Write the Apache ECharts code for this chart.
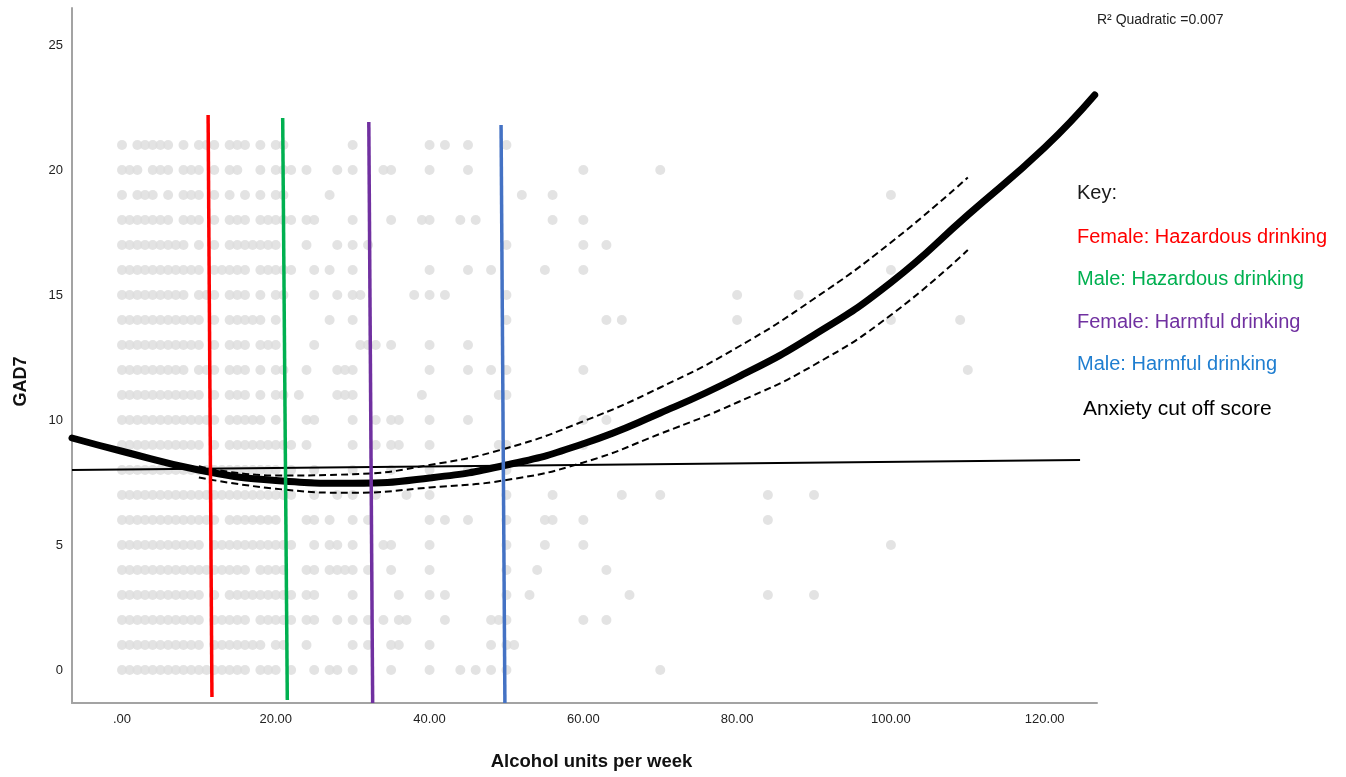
<!DOCTYPE html>
<html>
<head>
<meta charset="utf-8">
<script src="https://cdn.jsdelivr.net/npm/echarts@6/dist/echarts.min.js"></script>
<style>
html,body{margin:0;padding:0;background:#fff;}
#chart{width:1346px;height:777px;}
</style>
</head>
<body>
<div id="chart"></div>
<script>
// ---- Data ----
// GAD7 score rows: alcohol units per week for each observed point at that score
const row21 = [0,2,3,4,5,6,8,10,11,12,14,15,16,18,20,21,30,40,42,45,50];
const row20 = [0,1,2,4,5,6,8,9,10,12,14,15,18,20,21,22,24,28,30,34,35,40,45,60,70];
const row19 = [0,2,3,4,6,8,9,10,12,14,16,18,20,21,27,52,56,100];
const row18 = [0,1,2,3,4,5,6,8,9,10,12,14,15,16,18,19,20,21,22,24,25,30,35,39,40,44,46,56,60];
const row17 = [0,1,2,3,4,5,6,7,8,10,12,14,15,16,17,18,19,20,24,28,30,32,50,60,63];
const row16 = [0,1,2,3,4,5,6,7,8,9,10,12,13,14,15,16,18,19,20,21,22,25,27,30,40,45,48,55,60,100];
const row15 = [0,1,2,3,4,5,6,7,8,10,11,12,14,15,16,18,20,21,25,28,30,31,38,40,42,50,80,88];
const row14 = [0,1,2,3,4,5,6,7,8,9,10,12,14,15,16,17,18,20,27,30,50,63,65,80,100,109];
const row13 = [0,1,2,3,4,5,6,7,8,9,10,12,14,15,16,18,19,20,25,31,32,33,35,40,45];
const row12 = [0,1,2,3,4,5,6,7,8,10,11,12,14,15,16,18,20,21,24,28,29,30,40,45,48,50,60,110];
const row11 = [0,1,2,3,4,5,6,7,8,9,10,12,14,15,16,18,20,21,23,28,29,30,39,49,50];
const row10 = [0,1,2,3,4,5,6,7,8,9,10,11,12,14,15,16,17,18,20,24,25,30,33,35,36,40,45,60,63];
const row9  = [0,1,2,3,4,5,6,7,8,9,10,12,14,15,16,17,18,19,20,21,22,24,30,33,35,36,40,49,50,60];
const row8  = [0,1,2,3,4,5,6,7,8,9,10,11,12,13,14,15,16,17,18,19,20,22,25,30,35,40,45,50];
const row7  = [0,1,2,3,4,5,6,7,8,9,10,11,12,13,14,15,16,17,18,19,20,21,22,25,28,30,33,37,40,50,56,65,70,84,90];
const row6  = [0,1,2,3,4,5,6,7,8,9,10,11,12,14,15,16,17,18,19,20,24,25,27,30,32,40,42,45,50,55,56,60,84];
const row5  = [0,1,2,3,4,5,6,7,8,9,10,12,13,14,15,16,17,18,19,20,21,22,25,27,28,30,34,35,40,50,55,60,100];
const row4  = [0,1,2,3,4,5,6,7,8,9,10,11,12,13,14,15,16,18,19,20,21,24,25,27,28,29,30,32,35,40,50,54,63];
const row3  = [0,1,2,3,4,5,6,7,8,9,10,12,14,15,16,17,18,19,20,21,22,24,25,30,36,40,42,50,53,66,84,90];
const row2  = [0,1,2,3,4,5,6,7,8,9,10,12,13,14,15,16,18,19,20,21,22,24,25,28,30,32,34,36,37,42,48,49,50,60,63];
const row1  = [0,1,2,3,4,5,6,7,8,9,10,12,13,14,15,16,17,18,20,21,24,30,32,35,36,40,48,50,51];
const row0  = [0,1,2,3,4,5,6,7,8,9,10,11,12,13,14,15,16,18,19,20,22,25,27,28,30,35,40,44,46,48,50,70];
const rows = [row0,row1,row2,row3,row4,row5,row6,row7,row8,row9,row10,row11,row12,row13,row14,row15,row16,row17,row18,row19,row20,row21];

// Quadratic fit line and its confidence band
const fitX   = [-6.5, 0, 10, 20, 30, 40, 50, 60, 70, 80, 90, 100, 110, 120, 126.5];
const fitY   = [9.28, 8.75, 8.0, 7.58, 7.47, 7.68, 8.2, 9.05, 10.28, 11.7, 13.4, 15.5, 18.2, 20.9, 23.0];
const bandX  = [10, 20, 30, 40, 50, 60, 70, 80, 90, 100, 110];
const upperY = [8.15, 7.78, 7.83, 8.2, 8.87, 9.95, 11.3, 12.9, 14.85, 17.1, 19.7];
const lowerY = [7.7, 7.25, 7.09, 7.3, 7.6, 8.3, 9.45, 10.7, 12.2, 14.2, 16.8];

// Anxiety cut off score line (hand drawn, ends)
const cutX = [-6.5, 124.6];
const cutY = [8.0, 8.4];

// Drinking threshold lines (hand drawn: top point, bottom point)
const femaleHazX = [11.2, 11.7], femaleHazY = [22.2, -1.08];
const maleHazX   = [20.9, 21.5], maleHazY   = [22.08, -1.2];
const femaleHarmX = [32.1, 32.6], femaleHarmY = [21.92, -1.32];
const maleHarmX   = [49.3, 49.8], maleHarmY   = [21.8, -1.32];

const xTicks = [0, 20, 40, 60, 80, 100, 120];
const yTicks = [0, 5, 10, 15, 20, 25];

const keyLabels = ['Key:', 'Female: Hazardous drinking', 'Male: Hazardous drinking', 'Female: Harmful drinking', 'Male: Harmful drinking', 'Anxiety cut off score'];
const keyColors = ['#1a1a1a', '#ff0000', '#00b050', '#7030a0', '#1f7ed0', '#000000'];

// ---- Build ----
const zip = (xs, ys) => xs.map((x, i) => [x, ys[i]]);
const scatterData = [];
rows.forEach((r, y) => r.forEach(x => scatterData.push([x, y])));

const FONT = "'Liberation Sans', Arial, sans-serif";
const keyTop = [193, 237, 279, 322, 364, 409];
const keyLeft = [1077, 1077, 1077, 1077, 1077, 1083];
const keySize = [20, 20, 20, 20, 20, 21];

function vline(xs, ys, color) {
  return {
    type: 'line', data: zip(xs, ys), showSymbol: false, symbol: 'none', silent: true, z: 10,
    lineStyle: { color: color, width: 3.5 }
  };
}

const chart = echarts.init(document.getElementById('chart'), null, { renderer: 'canvas' });
chart.setOption({
  animation: false,
  backgroundColor: '#ffffff',
  grid: { left: 72, right: 249, top: 8, bottom: 74, containLabel: false },
  xAxis: {
    type: 'value', min: -6.5, max: 126.8,
    name: 'Alcohol units per week', nameLocation: 'middle', nameGap: 49,
    nameTextStyle: { fontFamily: FONT, fontWeight: 'bold', fontSize: 18.5, color: '#111', padding: [0, 0, 0, 14] },
    axisLine: { show: true, onZero: false, lineStyle: { color: '#a3a3a3', width: 2 } },
    axisTick: { show: false },
    splitLine: { show: false },
    axisLabel: {
      customValues: xTicks, fontFamily: FONT, fontSize: 13, color: '#222', margin: 10,
      formatter: v => (v === 0 ? '.00' : Number(v).toFixed(2))
    }
  },
  yAxis: {
    type: 'value', min: -1.32, max: 26.48,
    name: 'GAD7', nameLocation: 'middle', nameGap: 42, nameRotate: 90,
    nameTextStyle: { fontFamily: FONT, fontWeight: 'bold', fontSize: 18, color: '#111', padding: [0, 52, 0, 0] },
    axisLine: { show: true, onZero: false, lineStyle: { color: '#a3a3a3', width: 2 } },
    axisTick: { show: false },
    splitLine: { show: false },
    axisLabel: { customValues: yTicks, fontFamily: FONT, fontSize: 13, color: '#222', margin: 9 }
  },
  series: [
    {
      type: 'scatter', data: scatterData, symbol: 'circle', symbolSize: 10, silent: true, z: 1,
      itemStyle: { color: '#dcdcdc' }
    },
    {
      type: 'line', data: zip(cutX, cutY), showSymbol: false, symbol: 'none', silent: true, z: 3,
      lineStyle: { color: '#000', width: 2 }
    },
    {
      type: 'line', data: zip(bandX, upperY), smooth: true, showSymbol: false, symbol: 'none', silent: true, z: 4,
      lineStyle: { color: '#000', width: 2, type: [7, 4] }
    },
    {
      type: 'line', data: zip(bandX, lowerY), smooth: true, showSymbol: false, symbol: 'none', silent: true, z: 4,
      lineStyle: { color: '#000', width: 2, type: [7, 4] }
    },
    {
      type: 'line', data: zip(fitX, fitY), smooth: true, showSymbol: false, symbol: 'none', silent: true, z: 5,
      lineStyle: { color: '#000', width: 7, cap: 'round' }
    },
    vline(femaleHazX, femaleHazY, '#ff0000'),
    vline(maleHazX, maleHazY, '#00b050'),
    vline(femaleHarmX, femaleHarmY, '#7030a0'),
    vline(maleHarmX, maleHarmY, '#4472c4')
  ],
  graphic: [
    {
      type: 'text', x: 1097, y: 20, silent: true,
      style: { text: 'R² Quadratic =0.007', font: '14px ' + FONT, fill: '#222', verticalAlign: 'middle', align: 'left' }
    }
  ].concat(keyLabels.map((t, i) => ({
    type: 'text', x: keyLeft[i], y: keyTop[i], silent: true,
    style: { text: t, font: keySize[i] + 'px ' + FONT, fill: keyColors[i], verticalAlign: 'middle', align: 'left' }
  })))
});
</script>
</body>
</html>
